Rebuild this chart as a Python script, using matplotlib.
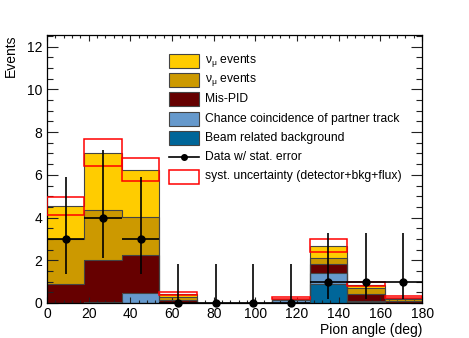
import numpy as np
import matplotlib
matplotlib.use("Agg")
import matplotlib.pyplot as plt
from matplotlib.patches import Rectangle
from matplotlib.lines import Line2D

plt.rcParams["font.family"] = ["Liberation Sans", "DejaVu Sans"]
plt.rcParams["mathtext.fontset"] = "custom"
plt.rcParams["mathtext.rm"] = "Liberation Sans"
plt.rcParams["mathtext.it"] = "Liberation Sans"

# pion angle bins (deg)
bin_edges = [0, 18, 36, 54, 72, 90, 108, 126, 144, 162, 180]

# stacked MC components, bottom to top
beam_bkg = [0.0, 0.0, 0.0, 0.0, 0.0, 0.0, 0.02, 0.90, 0.06, 0.02]
chance_coinc = [0.0, 0.04, 0.45, 0.02, 0.0, 0.0, 0.12, 0.52, 0.02, 0.0]
mis_pid = [0.90, 1.97, 1.80, 0.10, 0.0, 0.0, 0.02, 0.41, 0.33, 0.07]
numubar_events = [2.10, 2.34, 1.79, 0.15, 0.0, 0.0, 0.02, 0.27, 0.28, 0.08]
numu_events = [1.56, 2.69, 2.19, 0.15, 0.0, 0.0, 0.02, 0.58, 0.15, 0.08]

# systematic band (low, high) per bin; nan = no band drawn
syst_low = [4.12, 6.43, 5.73, 0.38, np.nan, np.nan, 0.20, 2.37, 0.78, 0.22]
syst_high = [4.95, 7.66, 6.77, 0.50, np.nan, np.nan, 0.29, 2.98, 1.00, 0.31]

# data with asymmetric stat. errors
data = [3, 4, 3, 0, 0, 0, 0, 1, 1, 1]
err_lo = [1.63, 1.91, 1.63, 0.0, 0.0, 0.0, 0.0, 0.83, 0.83, 0.83]
err_hi = [2.92, 3.16, 2.92, 1.84, 1.84, 1.84, 1.84, 2.30, 2.30, 2.30]

stack = [
    (beam_bkg, "#006699", "Beam related background"),
    (chance_coinc, "#6699cc", "Chance coincidence of partner track"),
    (mis_pid, "#660000", "Mis-PID"),
    (numubar_events, "#cc9900", r"$\nu_{\mu}$ events"),
    (numu_events, "#ffcc00", r"$\nu_{\mu}$ events"),
]

W, H = 469, 338
edges = np.asarray(bin_edges, float)
centers = 0.5 * (edges[:-1] + edges[1:])
half_w = 0.5 * np.diff(edges)

fig = plt.figure(figsize=(W / 100, H / 100), dpi=100)
ax = fig.add_axes([0.1, 0.1036, 0.8, 0.793])

bottom = np.zeros(len(centers))
for vals, col, lab in stack:
    top = bottom + np.asarray(vals)
    ax.stairs(top, edges, baseline=bottom, fill=True, color=col, lw=0, zorder=1)
    ax.stairs(top, edges, baseline=None, color="#444444", lw=0.8, zorder=2)
    bottom = top

# systematic uncertainty boxes
lo = np.asarray(syst_low)
hi = np.asarray(syst_high)
ok = np.isfinite(lo)
ax.bar(edges[:-1][ok], (hi - lo)[ok], width=np.diff(edges)[ok], bottom=lo[ok],
       align="edge", fill=False, edgecolor="#ff0000", lw=1.1, zorder=3)

ax.errorbar(centers, data, xerr=half_w, yerr=[err_lo, err_hi], fmt="o",
            color="black", ms=5, elinewidth=1.2, capsize=0, zorder=4,
            clip_on=False)

ax.set_xlim(0, 180)
ax.set_ylim(0, 12.55)
ax.set_xticks(np.arange(0, 181, 20))
ax.set_xticks(np.arange(0, 181, 4), minor=True)
ax.set_yticks(np.arange(0, 13, 2))
ax.set_yticks(np.arange(0, 12.6, 0.5), minor=True)
ax.tick_params(which="both", direction="in", top=True, right=True,
               labelsize=10, width=0.8, color="#222222")
ax.tick_params(axis="x", which="major", length=4.5, pad=3)
ax.tick_params(axis="x", which="minor", length=2.3)
ax.tick_params(axis="y", which="major", length=8)
ax.tick_params(axis="y", which="minor", length=4)
for sp in ax.spines.values():
    sp.set_linewidth(0.9)

ax.set_xlabel("Pion angle (deg)", fontsize=10, loc="right", labelpad=1)
ax.set_ylabel("Events", fontsize=10, loc="top", labelpad=6.5)

# legend drawn in figure pixels, ROOT TLegend style (fixed row pitch)
def fx(px):
    return px / W


def fy(py):
    return 1 - py / H


legend_rows = [(c, lab) for _, c, lab in reversed(stack)]
legend_rows += [("data", "Data w/ stat. error"),
                ("syst", "syst. uncertainty (detector+bkg+flux)")]
box_x0, box_x1, text_x = 169, 199, 205
row0, pitch, box_h = 60.7, 19.3, 14
for i, (kind, lab) in enumerate(legend_rows):
    yc = row0 + i * pitch
    if kind == "data":
        fig.add_artist(Line2D([fx(box_x0), fx(box_x1)], [fy(yc), fy(yc)],
                              color="black", lw=1.2))
        fig.add_artist(Line2D([fx(0.5 * (box_x0 + box_x1))], [fy(yc)],
                              color="black", marker="o", ms=4))
    else:
        fc, ec = ("white", "#ff0000") if kind == "syst" else (kind, "#444444")
        fig.add_artist(Rectangle((fx(box_x0), fy(yc + box_h / 2)),
                                 fx(box_x1 - box_x0), box_h / H,
                                 facecolor=fc, edgecolor=ec,
                                 lw=1.1 if kind == "syst" else 0.8))
    fig.text(fx(text_x), fy(yc), lab, fontsize=8.7, va="center", ha="left")

fig.savefig("out.png", dpi=100)
